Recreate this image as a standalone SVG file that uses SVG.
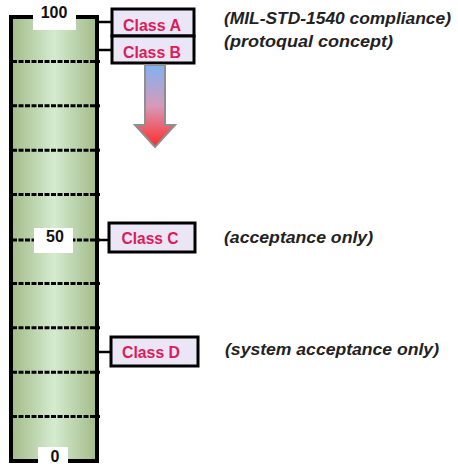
<svg xmlns="http://www.w3.org/2000/svg" width="458" height="464" viewBox="0 0 458 464">
<defs>
<linearGradient id="col" x1="0" y1="0" x2="1" y2="0">
<stop offset="0" stop-color="#a2bb88"/>
<stop offset="0.5" stop-color="#d5ebd0"/>
<stop offset="1" stop-color="#a2bb88"/>
</linearGradient>
<linearGradient id="arr" x1="0" y1="0" x2="0" y2="1">
<stop offset="0" stop-color="#7fb2f2"/>
<stop offset="0.5" stop-color="#d79ab8"/>
<stop offset="1" stop-color="#ff2a2a"/>
</linearGradient>
<style>
.box{fill:#ebe6f5;stroke:#000;stroke-width:3}
.cls{font-family:"Liberation Sans",Arial,sans-serif;font-weight:bold;font-size:16.5px;fill:#dc1c5a;text-anchor:middle}
.note{font-family:"Liberation Sans",Arial,sans-serif;font-weight:bold;font-style:italic;font-size:16px;fill:#222}
.num{font-family:"Liberation Sans",Arial,sans-serif;font-weight:bold;font-size:16px;fill:#111;text-anchor:middle}
.tick{stroke:#000;stroke-width:3;stroke-dasharray:5 1.5}
.conn{stroke:#000;stroke-width:2.5}
</style>
</defs>
<g id="scale">
<rect x="11" y="17" width="86" height="444" fill="url(#col)" stroke="#000" stroke-width="4"/>
<line class="tick" x1="12" y1="61.4" x2="100" y2="61.4"/>
<line class="tick" x1="12" y1="105.8" x2="100" y2="105.8"/>
<line class="tick" x1="12" y1="150.2" x2="100" y2="150.2"/>
<line class="tick" x1="12" y1="194.6" x2="100" y2="194.6"/>
<line class="tick" x1="12" y1="240" x2="100" y2="240"/>
<line class="tick" x1="12" y1="283.4" x2="100" y2="283.4"/>
<line class="tick" x1="12" y1="327.8" x2="100" y2="327.8"/>
<line class="tick" x1="12" y1="372.2" x2="100" y2="372.2"/>
<line class="tick" x1="12" y1="416.6" x2="100" y2="416.6"/>
<rect x="33" y="0" width="43" height="30" fill="#fff"/>
<text class="num" x="54" y="18">100</text>
<rect x="34" y="228" width="39" height="25" fill="#fff"/>
<text class="num" x="55" y="242" style="font-size:16px;font-weight:600">50</text>
<rect x="38" y="447" width="30" height="17" fill="#fff"/>
<text class="num" x="55" y="462">0</text>
</g>
<g id="connectors">
<line class="conn" x1="97" y1="22" x2="112" y2="22"/>
<line class="conn" x1="97" y1="50" x2="112" y2="50"/>
<line class="conn" x1="97" y1="240" x2="109" y2="240"/>
<line class="conn" x1="97" y1="352" x2="111" y2="352"/>
</g>
<g id="classA">
<rect class="box" x="112" y="9" width="82" height="27"/>
<text class="cls" x="152" y="31" textLength="58" lengthAdjust="spacingAndGlyphs">Class A</text>
</g>
<g id="classB">
<rect class="box" x="112" y="36" width="82" height="27"/>
<text class="cls" x="152" y="58" textLength="58" lengthAdjust="spacingAndGlyphs">Class B</text>
</g>
<g id="arrow">
<path d="M145,65 H165 V125 H175 L155,147 L135,125 H145 Z" fill="url(#arr)" stroke="#8f8f8f" stroke-width="2"/>
</g>
<g id="classC">
<rect class="box" x="109" y="223" width="86" height="29"/>
<text class="cls" x="150" y="244" textLength="57" lengthAdjust="spacingAndGlyphs">Class C</text>
</g>
<g id="classD">
<rect class="box" x="111" y="337" width="87" height="29"/>
<text class="cls" x="151" y="358" textLength="58" lengthAdjust="spacingAndGlyphs">Class D</text>
</g>
<g id="notes">
<text class="note" x="224" y="24" textLength="227" lengthAdjust="spacingAndGlyphs">(MIL-STD-1540 compliance)</text>
<text class="note" x="224" y="47" textLength="169" lengthAdjust="spacingAndGlyphs">(protoqual concept)</text>
<text class="note" x="224" y="243" textLength="149" lengthAdjust="spacingAndGlyphs">(acceptance only)</text>
<text class="note" x="225" y="355" textLength="214" lengthAdjust="spacingAndGlyphs">(system acceptance only)</text>
</g>
</svg>
